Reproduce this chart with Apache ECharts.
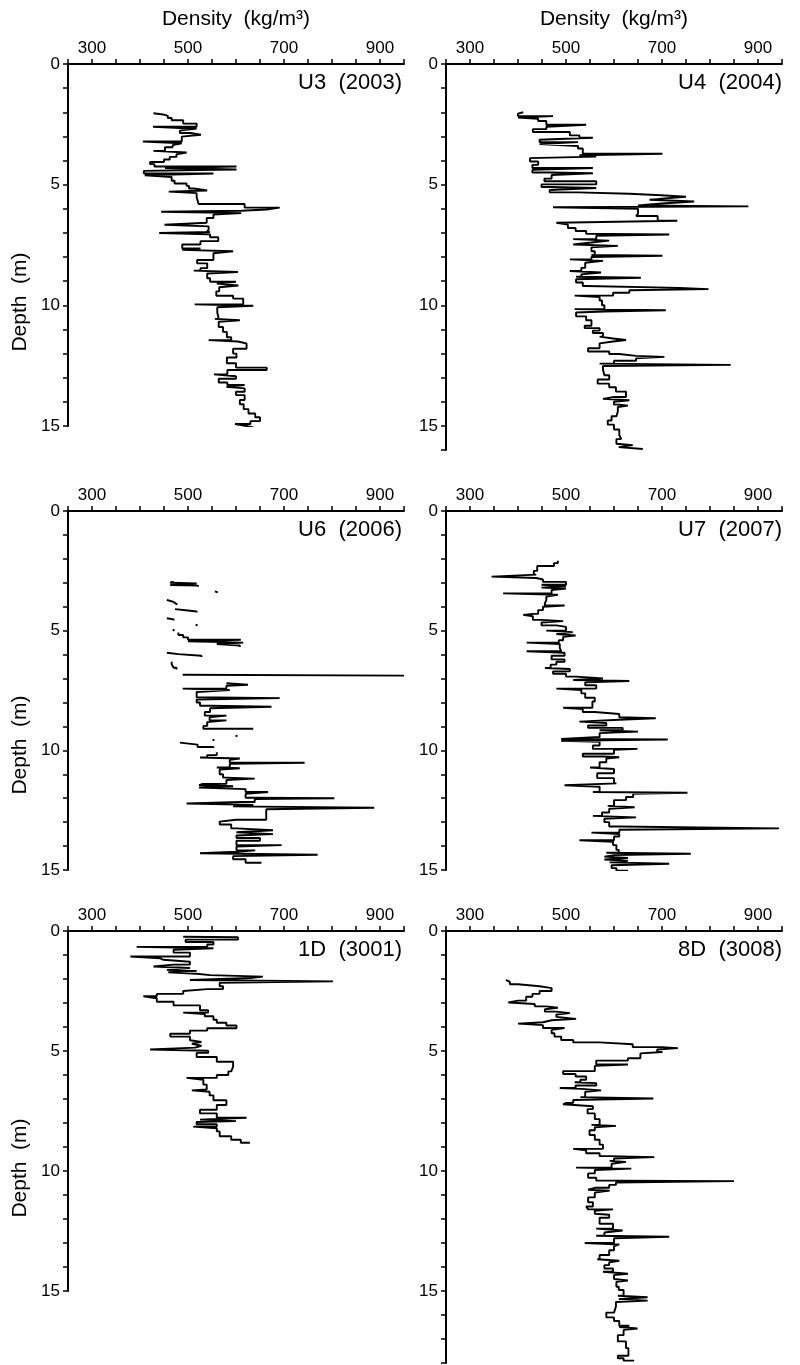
<!DOCTYPE html>
<html>
<head>
<meta charset="utf-8">
<title>Firn density profiles</title>
<script src="https://cdn.jsdelivr.net/npm/echarts@6/dist/echarts.min.js"></script>
<style>
  html, body { margin: 0; padding: 0; background: #ffffff; }
  #chart { width: 800px; height: 1365px; }
</style>
</head>
<body>
<div id="chart"></div>
<script>
// ---- Data: density (kg/m3) per layer, each entry [top depth (m), density].
// A null density marks a break in the measured record.
const u3Profile = [
  [2.04,428],[2.09,448],[2.15,458],[2.24,466],[2.33,490],[2.47,518],[2.60,427],[2.68,518],[2.76,483],[2.86,505],
  [2.93,527],[3.01,487],[3.21,406],[3.29,487],[3.36,468],[3.45,452],[3.60,428],[3.67,497],[3.74,476],[3.85,462],
  [3.96,450],[4.06,421],[4.15,430],[4.25,601],[4.31,452],[4.37,601],[4.43,408],[4.54,553],[4.61,410],[4.68,466],
  [4.84,472],[4.95,497],[5.05,502],[5.16,512],[5.24,540],[5.29,460],[5.35,518],[5.52,522],[5.80,618],[5.95,691],
  [6.03,664],[6.08,611],[6.12,444],[6.18,611],[6.24,553],[6.38,539],[6.58,543],[6.66,451],[6.73,543],[6.86,539],
  [6.96,546],[7.00,440],[7.06,546],[7.18,563],[7.34,526],[7.48,488],[7.64,526],[7.70,488],[7.76,594],[7.84,553],
  [8.00,553],[8.12,519],[8.26,540],[8.46,526],[8.56,512],[8.62,604],[8.68,540],[8.88,546],[9.02,600],[9.10,560],
  [9.18,605],[9.25,565],[9.42,559],[9.60,594],[9.72,615],[9.96,514],[10.02,636],[10.08,561],[10.30,564],[10.56,556],
  [10.62,608],[10.68,564],[10.90,573],[11.10,581],[11.32,590],[11.44,543],[11.50,604],[11.58,622],[11.80,594],[12.00,601],
  [12.16,581],[12.40,600],[12.58,664],[12.68,582],[12.86,554],[12.94,600],[13.04,564],[13.20,582],[13.30,618],[13.38,580],
  [13.44,618],[13.58,600],[13.72,618],[13.92,608],[14.10,616],[14.30,626],[14.48,640],[14.64,650],[14.80,630],[14.92,598],
  [15.00,622],[15.08,639]
];

const u4Profile = [
  [2.00,411],[2.06,400],[2.16,473],[2.22,400],[2.27,442],[2.36,459],[2.52,542],[2.60,459],[2.70,431],[2.82,508],
  [2.96,528],[3.06,556],[3.14,445],[3.24,525],[3.32,445],[3.40,525],[3.50,535],[3.72,701],[3.78,528],[3.84,563],
  [3.90,425],[4.04,442],[4.18,430],[4.31,556],[4.39,430],[4.50,466],[4.53,556],[4.60,470],[4.75,455],[4.86,563],
  [4.99,449],[5.10,466],[5.14,563],[5.22,466],[5.32,525],[5.38,632],[5.44,698],[5.50,750],[5.58,700],[5.63,674],
  [5.70,767],[5.78,700],[5.86,650],[5.90,880],[5.94,473],[6.00,650],[6.20,646],[6.30,691],[6.50,732],[6.58,480],
  [6.66,504],[6.80,520],[6.92,542],[7.04,590],[7.07,715],[7.12,563],[7.26,515],[7.32,590],[7.40,553],[7.48,515],
  [7.54,608],[7.60,553],[7.76,560],[7.92,553],[7.95,701],[8.00,553],[8.10,508],[8.16,577],[8.24,540],[8.45,532],
  [8.58,508],[8.64,573],[8.72,532],[8.82,521],[8.86,656],[8.92,521],[9.06,535],[9.20,542],[9.28,736],[9.33,797],
  [9.38,632],[9.48,598],[9.60,518],[9.66,570],[9.80,575],[10.00,580],[10.16,518],[10.21,708],[10.26,580],[10.30,521],
  [10.46,542],[10.62,553],[10.85,539],[10.95,570],[11.05,556],[11.15,577],[11.30,570],[11.38,598],[11.44,625],[11.50,598],
  [11.58,570],[11.78,546],[11.92,590],[12.02,611],[12.10,646],[12.14,705],[12.20,646],[12.30,600],[12.42,570],[12.47,843],
  [12.52,577],[12.66,580],[12.90,590],[13.08,566],[13.25,590],[13.40,604],[13.58,625],[13.80,600],[13.88,577],[13.94,632],
  [14.00,600],[14.12,611],[14.16,629],[14.22,608],[14.40,605],[14.60,595],[14.78,587],[14.95,600],[15.15,611],[15.38,615],
  [15.55,605],[15.74,604],[15.80,639],[15.88,610],[15.96,660]
];

const u6Profile = [
  [2.95,470],[3.00,463],[3.03,518],[3.09,463],[3.12,521],[3.17,521],[3.18,null],
  [3.36,556],[3.40,562],[3.41,null],
  [3.72,456],[3.80,470],[3.88,476],[3.93,476],[3.94,null],
  [4.10,473],[4.16,500],[4.20,518],[4.24,518],[4.25,null],
  [4.48,456],[4.53,470],[4.58,470],[4.59,null],
  [4.75,516],[4.79,520],[4.80,null],
  [4.96,468],[5.00,472],[5.01,null],
  [5.08,480],[5.18,490],[5.28,500],[5.38,610],[5.44,500],[5.50,615],[5.56,560],[5.62,608],[5.68,608],[5.69,null],
  [5.92,456],[5.98,480],[6.05,528],[6.10,528],[6.11,null],
  [6.30,466],[6.40,470],[6.55,476],[6.62,476],[6.63,null],
  [6.84,489],[6.88,950],[6.89,null],
  [7.20,580],[7.26,625],[7.30,580],[7.42,489],[7.48,587],[7.56,518],[7.78,518],[7.82,691],[7.88,518],[8.00,525],
  [8.14,546],[8.18,674],[8.24,546],[8.40,535],[8.55,580],[8.62,545],[8.75,580],[8.82,540],[8.98,532],[9.10,636],[9.12,null],
  [9.38,599],[9.42,603],[9.43,null],
  [9.55,551],[9.59,555],[9.60,null],
  [9.68,483],[9.76,520],[9.86,553],[9.90,553],[9.91,null],
  [10.08,560],[10.20,540],[10.30,525],[10.34,608],[10.40,587],[10.52,743],[10.56,587],[10.72,560],[10.75,608],[10.80,566],
  [11.00,573],[11.14,580],[11.18,639],[11.24,580],[11.40,530],[11.46,523],[11.50,594],[11.56,523],[11.62,620],[11.74,667],
  [11.82,620],[11.98,639],[12.00,805],[12.04,639],[12.16,610],[12.22,497],[12.28,636],[12.34,594],[12.40,888],[12.46,663],
  [12.75,663],[12.90,600],[12.98,566],[13.10,590],[13.26,601],[13.34,677],[13.42,601],[13.50,677],[13.56,601],[13.66,650],
  [13.78,601],[13.96,695],[14.02,601],[14.18,640],[14.24,601],[14.30,525],[14.36,770],[14.42,594],[14.55,620],[14.70,653]
];

const u7Profile = [
  [2.08,483],[2.18,475],[2.30,440],[2.50,433],[2.66,438],[2.74,345],[2.80,438],[2.86,452],[2.96,500],[3.08,449],
  [3.14,500],[3.20,449],[3.24,500],[3.30,470],[3.44,369],[3.50,483],[3.58,459],[3.72,456],[3.86,456],[3.95,497],
  [4.00,452],[4.14,442],[4.30,431],[4.34,411],[4.40,431],[4.55,449],[4.60,494],[4.66,449],[4.78,480],[4.84,500],
  [5.00,459],[5.06,514],[5.14,480],[5.20,520],[5.26,494],[5.40,485],[5.50,418],[5.56,487],[5.72,490],[5.86,418],
  [5.92,497],[6.05,470],[6.20,497],[6.30,480],[6.42,468],[6.56,456],[6.60,508],[6.70,473],[6.80,500],[6.92,521],
  [7.00,577],[7.06,515],[7.10,632],[7.16,540],[7.28,563],[7.42,480],[7.48,532],[7.62,540],[7.80,560],[7.96,555],
  [8.22,494],[8.28,535],[8.40,560],[8.48,611],[8.62,611],[8.66,687],[8.72,611],[8.80,528],[8.86,584],[8.96,546],
  [9.06,618],[9.16,570],[9.22,650],[9.28,570],[9.45,560],[9.52,490],[9.55,712],[9.60,490],[9.64,570],[9.80,556],
  [9.94,649],[9.98,600],[10.14,535],[10.26,577],[10.29,611],[10.34,584],[10.50,570],[10.72,550],[10.78,600],[10.96,565],
  [11.16,600],[11.38,605],[11.46,497],[11.52,570],[11.74,556],[11.77,753],[11.82,640],[11.95,625],[12.08,600],[12.32,587],
  [12.38,643],[12.44,590],[12.60,575],[12.74,556],[12.80,646],[12.86,580],[13.00,590],[13.18,611],[13.26,944],[13.32,611],
  [13.44,553],[13.50,611],[13.60,600],[13.76,528],[13.82,598],[13.96,605],[14.16,610],[14.28,584],[14.32,760],[14.38,600],
  [14.44,580],[14.50,629],[14.56,580],[14.62,629],[14.68,591],[14.74,715],[14.80,595],[14.92,605],[15.03,629]
];

const d1Profile = [
  [0.24,490],[0.26,604],[0.36,495],[0.46,553],[0.56,540],[0.66,393],[0.72,553],[0.78,470],[0.90,504],[1.06,380],
  [1.14,442],[1.20,449],[1.28,504],[1.40,470],[1.48,428],[1.54,504],[1.62,456],[1.66,518],[1.72,459],[1.78,518],
  [1.84,546],[1.90,656],[1.96,630],[2.04,504],[2.10,802],[2.16,566],[2.30,573],[2.42,540],[2.50,490],[2.62,435],
  [2.72,407],[2.80,435],[2.95,470],[3.10,525],[3.30,542],[3.40,490],[3.46,535],[3.55,553],[3.70,560],[3.82,580],
  [3.94,601],[4.05,540],[4.15,504],[4.28,463],[4.40,504],[4.55,508],[4.62,528],[4.70,508],[4.78,528],[4.86,515],
  [4.94,421],[4.99,542],[5.08,518],[5.25,560],[5.45,594],[5.65,590],[5.85,584],[6.00,560],[6.12,497],[6.20,532],
  [6.40,539],[6.60,539],[6.64,508],[6.70,545],[6.85,553],[7.05,580],[7.25,560],[7.45,525],[7.60,560],[7.78,622],
  [7.86,525],[7.92,600],[7.96,518],[8.05,560],[8.15,511],[8.22,560],[8.35,566],[8.55,590],[8.70,610],[8.82,629]
];

const d8Profile = [
  [2.04,375],[2.12,383],[2.22,400],[2.30,445],[2.38,470],[2.50,445],[2.62,430],[2.74,417],[2.90,400],[2.98,380],
  [3.04,435],[3.14,459],[3.20,483],[3.26,456],[3.36,480],[3.42,508],[3.48,480],[3.58,480],[3.66,521],[3.72,470],
  [3.80,452],[3.86,400],[3.92,452],[4.04,497],[4.12,470],[4.26,476],[4.40,490],[4.54,515],[4.64,570],[4.72,639],
  [4.84,700],[4.88,733],[4.94,690],[5.04,701],[5.10,655],[5.30,629],[5.40,563],[5.56,629],[5.62,560],[5.84,494],
  [5.96,520],[6.06,542],[6.20,530],[6.30,518],[6.34,563],[6.44,520],[6.54,487],[6.58,532],[6.64,573],[6.70,540],
  [6.92,530],[6.98,682],[7.04,515],[7.16,500],[7.22,494],[7.30,556],[7.42,545],[7.60,560],[7.84,570],[8.08,553],
  [8.12,604],[8.18,560],[8.30,549],[8.50,560],[8.70,570],[8.90,577],[9.08,515],[9.14,542],[9.26,570],[9.38,591],
  [9.42,684],[9.48,600],[9.58,591],[9.62,625],[9.70,595],[9.86,521],[9.90,636],[9.96,560],[10.10,546],[10.28,563],
  [10.40,604],[10.42,850],[10.48,604],[10.58,590],[10.70,560],[10.78,546],[10.82,591],[10.90,560],[11.10,546],[11.30,556],
  [11.48,542],[11.56,546],[11.60,598],[11.66,560],[11.78,560],[11.82,590],[11.95,570],[12.20,598],[12.40,563],[12.48,618],
  [12.56,580],[12.70,563],[12.74,715],[12.80,600],[13.00,539],[13.06,611],[13.14,600],[13.30,590],[13.50,570],[13.68,565],
  [13.74,611],[13.80,590],[13.92,580],[14.06,598],[14.20,577],[14.28,629],[14.34,600],[14.50,598],[14.56,629],[14.62,605],
  [14.82,610],[14.96,620],[15.20,608],[15.26,670],[15.34,610],[15.40,670],[15.46,604],[15.65,600],[15.90,584],[16.10,600],
  [16.25,611],[16.45,632],[16.50,611],[16.56,649],[16.62,620],[16.84,608],[17.10,625],[17.38,630],[17.70,608],[17.80,620],
  [17.90,642]
];

const profiles = [u3Profile, u4Profile, u6Profile, u7Profile, d1Profile, d8Profile];
const coreLabels = ['U3  (2003)', 'U4  (2004)', 'U6  (2006)', 'U7  (2007)', '1D  (3001)', '8D  (3008)'];
const depthMax = [15, 16, 15, 15, 15, 18];
const densityTickLabels = [300, 500, 700, 900];
const depthTickLabels = [0, 5, 10, 15];
const densityTitle = 'Density  (kg/m\u00B3)';
const depthTitle = 'Depth  (m)';

// ---- Layout: six panels in a 2 x 3 arrangement, pixel frames.
const FONT = '"Liberation Sans", Arial, Helvetica, sans-serif';
const frames = [
  { left: 68,  top: 64,  height: 362 },
  { left: 446, top: 64,  height: 386 },
  { left: 68,  top: 511, height: 359 },
  { left: 446, top: 511, height: 359 },
  { left: 68,  top: 931, height: 360 },
  { left: 446, top: 931, height: 432 }
];
const PANEL_W = 336;

const chart = echarts.init(document.getElementById('chart'), null, { renderer: 'canvas' });

const grids = frames.map(f => ({ left: f.left, top: f.top, width: PANEL_W, height: f.height, containLabel: false }));

const xAxes = frames.map((f, i) => ({
  gridIndex: i,
  type: 'value',
  position: 'top',
  min: 250,
  max: 950,
  interval: 50,
  axisLine: { show: true, onZero: false, lineStyle: { color: '#000', width: 2 } },
  axisTick: { show: true, inside: false, length: 5, lineStyle: { color: '#000', width: 1.5 } },
  axisLabel: {
    show: true, margin: 7, color: '#000', fontFamily: FONT, fontSize: 17,
    formatter: v => densityTickLabels.includes(v) ? String(v) : ''
  },
  splitLine: { show: false }
}));

const yAxes = frames.map((f, i) => ({
  gridIndex: i,
  type: 'value',
  inverse: true,
  min: 0,
  max: depthMax[i],
  interval: 1,
  axisLine: { show: true, onZero: false, lineStyle: { color: '#000', width: 2 } },
  axisTick: { show: true, inside: false, length: 5, lineStyle: { color: '#000', width: 1.5 } },
  axisLabel: {
    show: true, margin: 8, color: '#000', fontFamily: FONT, fontSize: 17,
    formatter: v => depthTickLabels.includes(v) ? String(v) : ''
  },
  splitLine: { show: false }
}));

// Stepped profiles: each density holds from its depth down to the next entry.
const series = profiles.map((p, i) => ({
  type: 'line',
  xAxisIndex: i,
  yAxisIndex: i,
  step: 'start',
  symbol: 'none',
  showSymbol: false,
  connectNulls: false,
  animation: false,
  silent: true,
  lineStyle: { color: '#000', width: 1.9 },
  data: p.map(([depth, dens]) => dens == null ? ['-', '-'] : [dens, depth])
}));

function textEl(x, y, text, size, align, rotation) {
  return {
    type: 'text', x: x, y: y, rotation: rotation || 0, silent: true,
    style: {
      text: text, fill: '#000', font: size + 'px ' + FONT,
      align: align, textAlign: align, verticalAlign: 'middle', textVerticalAlign: 'middle'
    }
  };
}

const graphics = [];
// density titles over the top row
graphics.push(textEl(frames[0].left + PANEL_W / 2, 19, densityTitle, 21, 'center'));
graphics.push(textEl(frames[1].left + PANEL_W / 2, 19, densityTitle, 21, 'center'));
// depth titles beside the left column
[302, 745, 1168].forEach(y => graphics.push(textEl(20, y, depthTitle, 21, 'center', Math.PI / 2)));
// core labels in the upper right of each panel
const labelY = [83, 83, 530, 530, 950, 950];
frames.forEach((f, i) => {
  const right = i % 2 === 0 ? f.left + PANEL_W - 2 : f.left + PANEL_W;
  graphics.push(textEl(right, labelY[i], coreLabels[i], 22, 'right'));
});

chart.setOption({
  backgroundColor: '#ffffff',
  animation: false,
  grid: grids,
  xAxis: xAxes,
  yAxis: yAxes,
  series: series,
  graphic: graphics
});
</script>
</body>
</html>
